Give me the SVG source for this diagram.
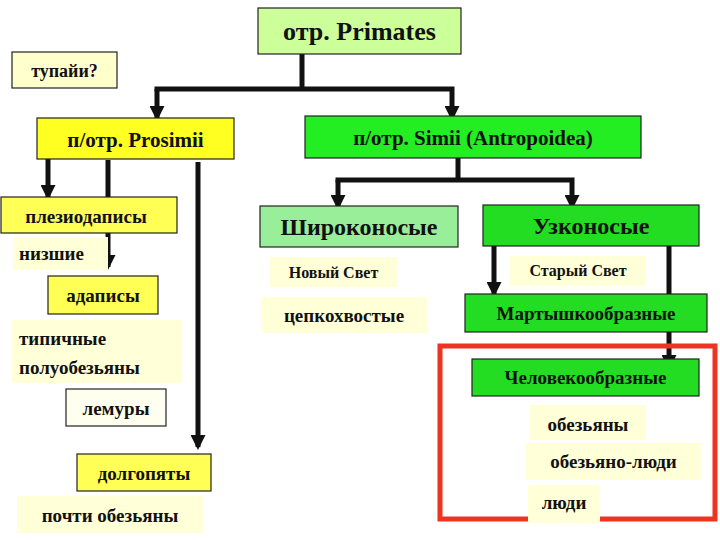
<svg xmlns="http://www.w3.org/2000/svg" width="720" height="540" viewBox="0 0 720 540" font-family="'Liberation Serif', 'DejaVu Serif', serif" font-weight="bold">
<style>
text{font-family:'Liberation Serif','Times New Roman','DejaVu Serif',serif;font-weight:bold;fill:#111}
.b{stroke:#222;stroke-width:1.2}
.c line,.c polyline{stroke:#111;stroke-width:5;fill:none}
.t{font-size:21px}
.s{font-size:16px}
.bg{fill:#ffffd8}
</style>
<defs>
<marker id="h" viewBox="0 0 10 10" refX="8" refY="5" markerWidth="3.2" markerHeight="3" orient="auto"><path d="M0,0 L10,5 L0,10 Z" fill="#111"/></marker>
</defs>
<rect width="720" height="540" fill="#fff"/>
<g class="c" id="connectors">
<line x1="302" y1="54" x2="302" y2="89"/>
<polyline points="154.5,89 452,89 452,118" marker-end="url(#h)"/>
<line x1="157" y1="89" x2="157" y2="118" marker-end="url(#h)"/>
<line x1="48" y1="159" x2="48" y2="197" marker-end="url(#h)"/>
<line x1="108" y1="160" x2="108" y2="267" marker-end="url(#h)"/>
<line x1="198" y1="162" x2="198" y2="447" marker-end="url(#h)"/>
<line x1="458" y1="158" x2="458" y2="180"/>
<polyline points="335.5,180 572,180 572,207" marker-end="url(#h)"/>
<line x1="338" y1="180" x2="338" y2="207" marker-end="url(#h)"/>
<line x1="494" y1="246" x2="494" y2="294" marker-end="url(#h)"/>
<line x1="669" y1="246" x2="669" y2="367" marker-end="url(#h)"/>
</g>
<g id="primates"><rect class="b" x="258" y="8" width="203" height="46" fill="#ccff99"/><text x="359.5" y="40" font-size="26" text-anchor="middle">отр. Primates</text></g>
<g id="tupai"><rect class="b" x="12" y="52" width="105" height="36" fill="#ffffcc"/><text x="64.5" y="77" style="font-size:18px" text-anchor="middle">тупайи?</text></g>
<g id="prosimii"><rect class="b" x="37" y="118" width="197" height="41" fill="#ffff22"/><text x="135.5" y="147" class="t" text-anchor="middle">п/отр. Prosimii</text></g>
<g id="simii"><rect class="b" x="305" y="116" width="336" height="42" fill="#22ee22"/><text x="473" y="145" class="t" text-anchor="middle">п/отр. Simii (Antropoidea)</text></g>
<g id="plesio"><rect class="b" x="1" y="197" width="176" height="36" fill="#ffff55"/><text x="86" y="223" style="font-size:19px" text-anchor="middle">плезиодаписы</text></g>
<g id="nizshie"><rect class="bg" x="13" y="237" width="95" height="33"/><text x="19" y="260" style="font-size:19px">низшие</text></g>
<g id="shiroko"><rect class="b" x="260" y="206" width="198" height="41" fill="#99ee99"/><text x="359" y="235" style="font-size:24px" text-anchor="middle">Широконосые</text></g>
<g id="uzko"><rect class="b" x="483" y="205" width="216" height="41" fill="#22dd22"/><text x="591" y="234" style="font-size:24px" text-anchor="middle">Узконосые</text></g>
<g id="novy"><rect class="bg" x="270" y="257" width="127" height="30"/><text x="333.5" y="278" class="s" text-anchor="middle">Новый Свет</text></g>
<g id="stary"><rect class="bg" x="510" y="256" width="136" height="30"/><text x="578" y="276" class="s" text-anchor="middle">Старый Свет</text></g>
<g id="adapisy"><rect class="b" x="48" y="276" width="110" height="38" fill="#ffff55"/><text x="103" y="302" style="font-size:19px" text-anchor="middle">адаписы</text></g>
<g id="tsepko"><rect class="bg" x="261" y="297" width="166" height="36"/><text x="344" y="322" style="font-size:19px" text-anchor="middle">цепкохвостые</text></g>
<g id="martysh"><rect class="b" x="465" y="294" width="242" height="38" fill="#22dd22"/><text x="586" y="320" style="font-size:19px" text-anchor="middle">Мартышкообразные</text></g>
<g id="tipich"><rect class="bg" x="12" y="320" width="170" height="63"/><text x="19" y="345" style="font-size:19px">типичные</text><text x="19" y="374" style="font-size:19px">полуобезьяны</text></g>
<g id="lemury"><rect class="b" x="66" y="389" width="100" height="37" fill="#fffff0"/><text x="116" y="415" style="font-size:19px" text-anchor="middle">лемуры</text></g>
<rect x="440" y="346" width="275" height="173" fill="none" stroke="#ee3322" stroke-width="5"/>
<g id="chelovek"><rect class="b" x="472" y="359" width="227" height="37" fill="#22dd22"/><text x="585.5" y="384" style="font-size:19px" text-anchor="middle">Человекообразные</text></g>
<g id="obez"><rect class="bg" x="530" y="405" width="116" height="35"/><text x="588" y="431" style="font-size:19px" text-anchor="middle">обезьяны</text></g>
<g id="obezl"><rect class="bg" x="526" y="443" width="175" height="37"/><text x="613.5" y="468" style="font-size:19px" text-anchor="middle">обезьяно-люди</text></g>
<g id="lyudi"><rect class="bg" x="528" y="485" width="72" height="38"/><text x="564" y="509" style="font-size:19px" text-anchor="middle">люди</text></g>
<g id="dolgo"><rect class="b" x="77" y="454" width="134" height="37" fill="#ffff55"/><text x="144" y="480" style="font-size:19px" text-anchor="middle">долгопяты</text></g>
<g id="pochti"><rect class="bg" x="17" y="496" width="186" height="37"/><text x="110" y="522" style="font-size:19px" text-anchor="middle">почти обезьяны</text></g>
</svg>
